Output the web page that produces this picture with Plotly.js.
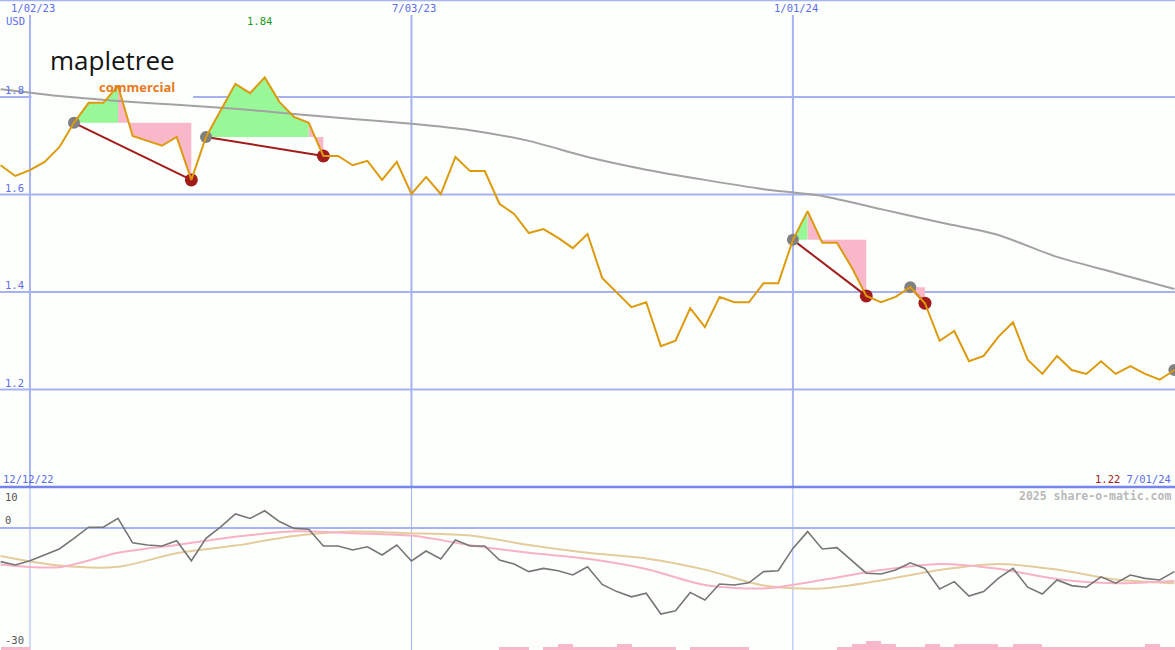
<!DOCTYPE html>
<html>
<head>
<meta charset="utf-8">
<script src="https://cdn.plot.ly/plotly-3.0.1.min.js"></script>
<style>
html,body{margin:0;padding:0;background:#fdfffd;}
#chart{width:1175px;height:650px;}
</style>
</head>
<body>
<div id="chart"></div>
<script>
// ---------- DATA ----------
const dates = [
'2022-12-19','2022-12-26','2023-01-02','2023-01-09','2023-01-16','2023-01-23','2023-01-30','2023-02-06','2023-02-13','2023-02-20',
'2023-02-27','2023-03-06','2023-03-13','2023-03-20','2023-03-27','2023-04-03','2023-04-10','2023-04-17','2023-04-24','2023-05-01',
'2023-05-08','2023-05-15','2023-05-22','2023-05-29','2023-06-05','2023-06-12','2023-06-19','2023-06-26','2023-07-03','2023-07-10',
'2023-07-17','2023-07-24','2023-07-31','2023-08-07','2023-08-14','2023-08-21','2023-08-28','2023-09-04','2023-09-11','2023-09-18',
'2023-09-25','2023-10-02','2023-10-09','2023-10-16','2023-10-23','2023-10-30','2023-11-06','2023-11-13','2023-11-20','2023-11-27',
'2023-12-04','2023-12-11','2023-12-18','2023-12-25','2024-01-01','2024-01-08','2024-01-15','2024-01-22','2024-01-29','2024-02-05',
'2024-02-12','2024-02-19','2024-02-26','2024-03-04','2024-03-11','2024-03-18','2024-03-25','2024-04-01','2024-04-08','2024-04-15',
'2024-04-22','2024-04-29','2024-05-06','2024-05-13','2024-05-20','2024-05-27','2024-06-03','2024-06-10','2024-06-17','2024-06-24',
'2024-07-01'];

const price = [
1.660,1.638,1.650,1.667,1.697,1.747,1.788,1.788,1.823,1.720,
1.710,1.700,1.718,1.630,1.718,1.773,1.827,1.808,1.840,1.790,
1.759,1.747,1.679,1.679,1.660,1.669,1.630,1.667,1.601,1.636,
1.601,1.677,1.648,1.648,1.581,1.560,1.521,1.529,1.511,1.490,
1.519,1.429,1.398,1.369,1.379,1.289,1.300,1.367,1.328,1.390,
1.379,1.379,1.418,1.418,1.507,1.566,1.501,1.501,1.451,1.392,
1.379,1.390,1.410,1.377,1.300,1.320,1.258,1.269,1.308,1.338,
1.261,1.232,1.269,1.240,1.232,1.258,1.232,1.248,1.232,1.220,
1.240];

const maDates = ['2022-12-19','2023-01-16','2023-02-13','2023-03-13','2023-04-10','2023-05-08','2023-06-05','2023-07-03',
'2023-07-31','2023-08-28','2023-09-25','2023-10-23','2023-11-20','2023-12-18','2024-01-15','2024-02-12','2024-03-11',
'2024-04-08','2024-05-06','2024-06-03','2024-07-01'];
const longMA = [1.816,1.802,1.792,1.784,1.776,1.765,1.755,1.745,1.732,1.710,1.677,1.651,1.630,1.611,1.597,1.570,1.543,1.517,1.472,1.439,1.406];

const pinkOsc = [-9.1,-9.8,-6.2,-4.25,-2.2,-0.8,-1.3,-1.9,-4.3,-6.2,-7.7,-10.25,-14.25,-15.1,-13.0,-10.5,-9.0,-10.2,-12.75,-13.8,-13.25];
const tanOsc  = [-7.0,-9.4,-9.7,-6.3,-4.4,-2.0,-0.9,-1.3,-1.9,-4.25,-6.2,-7.6,-10.4,-14.4,-15.1,-13.1,-10.5,-9.0,-10.4,-12.9,-13.8];

const darkOsc = [
-8.4,-9.25,-8.2,-6.75,-5.25,-2.6,0.2,0.2,2.4,-3.7,
-4.25,-4.5,-3.2,-8.2,-2.6,0.3,3.5,2.4,4.3,1.6,
-0.1,-0.3,-4.5,-4.5,-5.5,-4.7,-6.75,-4.25,-8.25,-5.75,
-7.75,-3.0,-4.5,-4.5,-8.0,-9.0,-10.9,-10.1,-10.7,-11.75,
-9.7,-14.1,-15.9,-17.2,-16.3,-21.5,-20.7,-16.1,-18.0,-14.0,
-14.25,-13.7,-10.9,-10.7,-5.1,-0.9,-5.25,-4.9,-8.0,-11.3,
-11.5,-10.5,-8.7,-10.1,-15.25,-13.4,-17.0,-15.9,-12.6,-10.1,
-14.8,-16.5,-13.0,-14.4,-14.8,-12.2,-13.8,-11.75,-12.6,-13.0,
-10.9];

const volBars = [
1,1,0,0,0,0,0,0,0,0,
0,0,0,0,0,0,0,0,0,0,
0,0,0,0,0,0,0,0,0,0,
0,0,0,0,1,1,0,1,2,1,
1,1,2,1,1,1,0,1,1,1,
1,0,0,0,0,0,0,1,2,3,
2,1,1,2,1,2,2,2,1,2,
2,1,1,1,1,1,1,1,2,1,
1];

const episodeStart    = [5, 14, 54, 62];
const episodeGreenEnd = [8, 21, 55, 62];
const episodeTrough   = [13, 22, 59, 63];
const grayDotIdx = [5, 14, 54, 62, 80];
const redDotIdx  = [13, 22, 59, 63];

const xTickDates  = ['2023-01-02','2023-07-03','2024-01-01'];
const xTickLabels = ['1/02/23','7/03/23','1/01/24'];
const priceTicks  = [1.8, 1.6, 1.4, 1.2];
const priceTickLabels = ['1.8','1.6','1.4','1.2'];
const oscTicks = [10, 0, -30];
const oscTickLabels = ['10','0','-30'];
const maxLabel = '1.84', maxIdx = 18;
const minLabel = '1.22';
const startLabel = '12/12/22', endLabel = '7/01/24';
const currency = 'USD';
const credit = '2025 share-o-matic.com';
const logoWord = 'mapletree', logoSub = 'commercial';

// ---------- STYLE ----------
const C = {
  blueTxt:'#5b6cf0', grid:'#a6b2f4', sep:'#7585ec', orange:'#dc9a0c', gray:'#a2a2a2',
  green:'#98f898', pink:'#f9b8ca', red:'#a21c1c', dot:'#808080',
  dark:'#767676', oscPink:'#f7b2c6', oscTan:'#e4cc9c', bars:'#f9b8ca'
};
const MONO = 'DejaVu Sans Mono, monospace';
const H = 650, lowerTop = 163/650;

const traces = [];

// bars in lower panel (overlay axis)
traces.push({type:'bar', x:dates, y:volBars, xaxis:'x', yaxis:'y3',
  marker:{color:C.bars, line:{width:0}}, width:7*86400000, offset:0, hoverinfo:'skip'});

// green / pink fills
function band(a, b, level, color){
  const xs = dates.slice(a, b+1), ys = price.slice(a, b+1);
  return {type:'scatter', mode:'lines', x: xs.concat(xs.slice().reverse()),
    y: ys.concat(xs.map(()=>level)), fill:'toself', fillcolor:color,
    line:{width:0, color:color}, xaxis:'x', yaxis:'y', hoverinfo:'skip'};
}
for (let k=0;k<episodeStart.length;k++){
  const s = episodeStart[k], g = episodeGreenEnd[k], t = episodeTrough[k];
  if (g > s) traces.push(band(s, g, price[s], C.green));
  if (t > g) traces.push(band(g, t, price[s], C.pink));
}

// long moving average
traces.push({type:'scatter', mode:'lines', x:maDates, y:longMA, line:{color:C.gray, width:2, shape:'spline', smoothing:0.6},
  xaxis:'x', yaxis:'y', hoverinfo:'skip'});

// connectors
for (let k=0;k<episodeStart.length;k++){
  const s = episodeStart[k], t = episodeTrough[k];
  traces.push({type:'scatter', mode:'lines', x:[dates[s], dates[t]], y:[price[s], price[t]],
    line:{color:C.red, width:2}, xaxis:'x', yaxis:'y', hoverinfo:'skip'});
}

// dots
traces.push({type:'scatter', mode:'markers', x:grayDotIdx.map(i=>dates[i]), y:grayDotIdx.map(i=>price[i]),
  marker:{color:C.dot, size:12, line:{width:0}}, xaxis:'x', yaxis:'y', hoverinfo:'skip'});
traces.push({type:'scatter', mode:'markers', x:redDotIdx.map(i=>dates[i]), y:redDotIdx.map(i=>price[i]),
  marker:{color:C.red, size:13, line:{width:0}}, xaxis:'x', yaxis:'y', hoverinfo:'skip'});

// price
traces.push({type:'scatter', mode:'lines', x:dates, y:price, line:{color:C.orange, width:2},
  xaxis:'x', yaxis:'y', hoverinfo:'skip'});

// oscillators
traces.push({type:'scatter', mode:'lines', x:maDates, y:tanOsc, line:{color:C.oscTan, width:2, shape:'spline', smoothing:0.8},
  xaxis:'x', yaxis:'y2', hoverinfo:'skip'});
traces.push({type:'scatter', mode:'lines', x:maDates, y:pinkOsc, line:{color:C.oscPink, width:2, shape:'spline', smoothing:0.8},
  xaxis:'x', yaxis:'y2', hoverinfo:'skip'});
traces.push({type:'scatter', mode:'lines', x:dates, y:darkOsc, line:{color:C.dark, width:1.6},
  xaxis:'x', yaxis:'y2', hoverinfo:'skip'});

// ---------- SHAPES ----------
const shapes = [];
xTickDates.forEach(d=>{
  shapes.push({type:'line', layer:'below', xref:'x', yref:'paper', x0:d, x1:d, y0:lowerTop, y1:(H-15)/H, line:{color:C.grid, width:2}});
  shapes.push({type:'line', layer:'below', xref:'x', yref:'paper', x0:d, x1:d, y0:0, y1:lowerTop, line:{color:C.grid, width:1}});
});
priceTicks.forEach(v=>{
  shapes.push({type:'line', layer:'below', xref:'paper', yref:'y', x0:0, x1:1, y0:v, y1:v, line:{color:C.grid, width:2}});
});
shapes.push({type:'line', layer:'below', xref:'paper', yref:'y2', x0:0, x1:1, y0:0, y1:0, line:{color:C.grid, width:2}});
// logo backing
shapes.push({type:'rect', layer:'below', xref:'paper', yref:'paper', x0:31.5/1175, x1:193/1175, y0:(H-100)/H, y1:(H-40)/H,
  fillcolor:'#fdfffd', line:{width:0}});
// separator & top border
shapes.push({type:'line', layer:'above', xref:'paper', yref:'paper', x0:0, x1:1, y0:lowerTop, y1:lowerTop, line:{color:C.sep, width:2.5}});
shapes.push({type:'line', layer:'above', xref:'paper', yref:'paper', x0:0, x1:1, y0:1-0.5/H, y1:1-0.5/H, line:{color:C.grid, width:1.5}});

// ---------- ANNOTATIONS ----------
const ann = [];
const lab = (o)=>Object.assign({showarrow:false, borderpad:0}, o);
xTickDates.forEach((d,i)=>ann.push(lab({xref:'x', yref:'paper', x:d, y:1, yanchor:'top', xanchor:'center', xshift:3, yshift:-1,
  text:xTickLabels[i], font:{family:MONO, size:10.5, color:C.blueTxt}})));
priceTicks.forEach((v,i)=>ann.push(lab({xref:'paper', yref:'y', x:0, y:v, xanchor:'left', yanchor:'bottom', xshift:4, yshift:0,
  text:priceTickLabels[i], font:{family:MONO, size:10.5, color:C.blueTxt}})));
oscTicks.forEach((v,i)=>ann.push(lab({xref:'paper', yref:'y2', x:0, y:v, xanchor:'left', yanchor:(i===0?'top':'bottom'),
  xshift:4, yshift:(i===0?-2:1), text:oscTickLabels[i], font:{family:MONO, size:10.5, color:'#555555'}})));
ann.push(lab({xref:'paper', yref:'paper', x:0, y:(H-21)/H, xanchor:'left', yanchor:'middle', xshift:5,
  text:currency, font:{family:MONO, size:10.5, color:C.blueTxt}}));
ann.push(lab({xref:'x', yref:'paper', x:dates[maxIdx], y:(H-21)/H, xanchor:'center', yanchor:'middle', xshift:-5,
  text:maxLabel, font:{family:MONO, size:10.5, color:'#1b9a1b'}}));
ann.push(lab({xref:'paper', yref:'paper', x:0, y:(H-479)/H, xanchor:'left', yanchor:'middle', xshift:2,
  text:startLabel, font:{family:MONO, size:10.5, color:C.blueTxt}}));
ann.push(lab({xref:'paper', yref:'paper', x:1, y:(H-479)/H, xanchor:'right', yanchor:'middle', xshift:-3,
  text:'<span style="color:#a01818">'+minLabel+'</span> '+endLabel, font:{family:MONO, size:10.5, color:C.blueTxt}}));
ann.push(lab({xref:'paper', yref:'paper', x:1, y:(H-496)/H, xanchor:'right', yanchor:'middle', xshift:-3,
  text:'<b>'+credit+'</b>', font:{family:MONO, size:11.5, color:'#b9b9b9'}}));
// logo
ann.push(lab({xref:'paper', yref:'paper', x:112/1175, y:(H-60)/H, xanchor:'center', yanchor:'middle',
  text:logoWord, font:{family:'Open Sans', size:26, color:'#141414'}}));
ann.push(lab({xref:'paper', yref:'paper', x:176/1175, y:(H-87)/H, xanchor:'right', yanchor:'middle',
  text:'<b>'+logoSub+'</b>', font:{family:'Open Sans', size:13, color:'#e8791c'}}));

const layout = {
  width:1175, height:650, margin:{l:0,r:0,t:0,b:0},
  paper_bgcolor:'#fdfffd', plot_bgcolor:'#fdfffd', showlegend:false,
  xaxis:{type:'date', range:['2022-12-18 17:00','2024-07-01 07:00'], anchor:'y2', visible:true,
    showgrid:false, zeroline:false, showticklabels:false, showline:false, ticks:'', fixedrange:true},
  yaxis:{domain:[lowerTop,1], range:[1.0,1.999], showgrid:false, zeroline:false, showticklabels:false, fixedrange:true},
  yaxis2:{domain:[0,lowerTop], range:[-30.5,10.25], showgrid:false, zeroline:false, showticklabels:false, fixedrange:true},
  yaxis3:{overlaying:'y2', range:[0,54], showgrid:false, zeroline:false, showticklabels:false, fixedrange:true},
  bargap:0, shapes:shapes, annotations:ann
};
Plotly.newPlot('chart', traces, layout, {staticPlot:true, displayModeBar:false});
</script>
</body>
</html>
